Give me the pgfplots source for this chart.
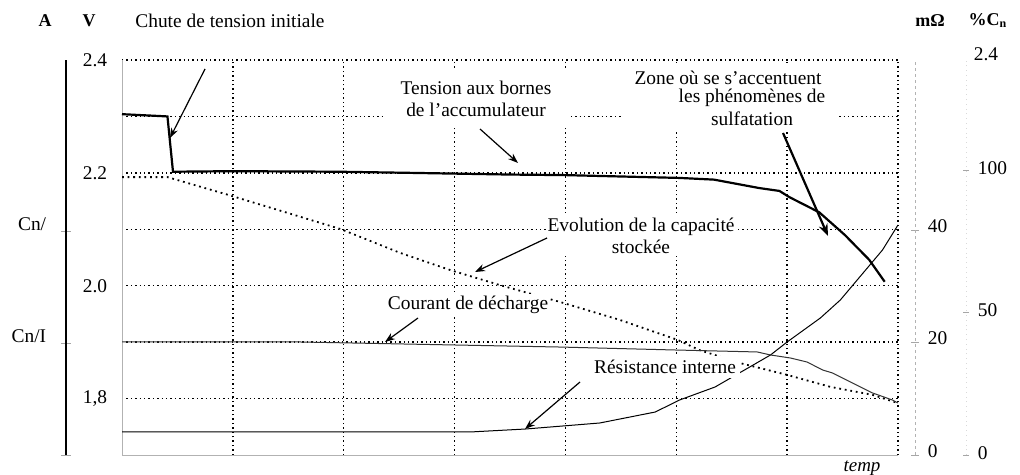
\documentclass[border=0pt]{standalone}
\usepackage{fontspec}
\setmainfont{Liberation Serif}
\usepackage{pgfplots}
\pgfplotsset{compat=1.18}
\usepackage{pgfplotstable}
\usetikzlibrary{arrows.meta}

% tension aux bornes (V)
\pgfplotstableread{
t V
0    2.304
0.41 2.300
0.46 2.202
1.00 2.203
1.96 2.202
2.60 2.200
3.50 2.197
4.00 2.196
5.03 2.191
5.34 2.188
5.75 2.173
5.93 2.168
6.02 2.157
6.29 2.130
6.52 2.090
6.74 2.046
6.88 2.007
}\tension

% capacite stockee (% Cn)
\pgfplotstableread{
t C
0    97.5
0.41 97.5
0.965 91.2
1.97 79.3
2.51 70.9
2.96 64.9
3.41 59.6
3.95 53.7
4.49 47.4
5.01 40.4
5.21 36.8
5.57 32.3
6.00 28.1
6.39 23.9
6.77 21.1
7.00 18.2
}\capacite

% courant de decharge (Cn/I = 1)
\pgfplotstableread{
t I
0    1.009
1.61 1.009
3.95 0.964
4.97 0.938
5.73 0.920
5.85 0.893
6.03 0.866
6.18 0.830
6.32 0.759
6.41 0.732
6.77 0.554
6.95 0.491
7.00 0.464
}\courant

% resistance interne (mOhm)
\pgfplotstableread{
t R
0    4.09
3.14 4.09
3.64 4.62
4.31 5.69
4.81 7.64
5.03 9.78
5.35 12.09
5.85 17.78
6.00 20.09
6.30 24.36
6.48 27.56
6.86 36.44
7.00 40.89
}\resistance

\begin{document}
\fontsize{9.7}{11}\selectfont
\begin{tikzpicture}
\useasboundingbox (0,0) rectangle (510pt,237.5pt);
\pgfplotsset{every axis/.append style={scale only axis, height=197.5pt,
  anchor=south west, clip=false,
  every tick label/.append style={font=\fontsize{9.7}{11}\selectfont}}}

% axe principal : tension
\begin{axis}[at={(61pt,10pt)}, width=388pt,
  xmin=0, xmax=7, ymin=1.7, ymax=2.4,
  axis x line*=bottom, axis y line*=left,
  axis line style={gray!60, line width=0.45pt},
  xtick={1,...,7}, xticklabels={},
  ytick={1.8,1.9,2.0,2.1,2.2,2.3,2.4},
  yticklabels={{1,8},{},2.0,{},2.2,{},2.4},
  yticklabel style={xshift=-4pt},
  major tick length=0pt,
  grid=major,
  grid style={black, line width=0.7pt, dash pattern=on 0.7pt off 1.5pt}]
\addplot[black, line width=1.1pt, mark=none] table[x=t,y=V] {\tension};
\end{axis}

% axe mOhm : resistance interne
\begin{axis}[at={(61pt,10pt)}, width=396.5pt,
  xmin=0, xmax=7.1534, ymin=0, ymax=70.22,
  axis x line=none, axis y line*=right,
  axis line style={gray!60, dash pattern=on 1.5pt off 1.5pt, line width=0.45pt},
  ytick={0,20,40}, yticklabels={0,20,40},
  tick align=center, major tick length=4pt, tick style={gray!70},
  yticklabel style={xshift=1pt, yshift=2pt}]
\addplot[black, line width=0.5pt, mark=none] table[x=t,y=R] {\resistance};
\end{axis}

% axe % Cn : capacite stockee
\begin{axis}[at={(61pt,10pt)}, width=422pt,
  xmin=0, xmax=7.613, ymin=0, ymax=138.6,
  axis x line=none, axis y line*=right,
  axis line style={gray!30, dotted, line width=0.4pt},
  ytick={0,50,100}, yticklabels={0,50,100},
  tick align=center, major tick length=3pt, tick style={gray!70},
  yticklabel style={xshift=1pt, yshift=1pt}]
\addplot[black, line width=0.9pt, dash pattern=on 0.9pt off 1.9pt, mark=none]
  table[x=t,y=C] {\capacite};
\end{axis}

% axe A : courant de decharge
\begin{axis}[at={(33pt,10pt)}, width=416pt,
  xmin=-0.5052, xmax=7, ymin=0, ymax=3.527,
  axis x line=none, axis y line*=left,
  axis line style={black, line width=0.55pt},
  ytick={0,1,2}, yticklabels={{},Cn/I,Cn/},
  tick align=center, major tick length=5pt, tick style={gray!70},
  yticklabel style={xshift=-4pt, yshift=3.5pt}]
\addplot[black!80, line width=0.5pt, mark=none] table[x=t,y=I] {\courant};
\end{axis}

% annotations (coordonnees en pixels)
\begin{scope}[x=0.5pt, y=-0.5pt, yshift=237.5pt,
  lab/.style={fill=white, inner sep=1pt},
  arr/.style={line width=0.6pt, -{Stealth[length=5pt,width=3.6pt]}}]
\node[font=\fontsize{9}{10}\selectfont\bfseries] at (45,21) {A};
\node[font=\fontsize{9}{10}\selectfont\bfseries] at (89,21) {V};
\node[anchor=west, inner sep=0pt] at (135,21) {Chute de tension initiale};
\node[font=\fontsize{9}{10}\selectfont\bfseries] at (930,21) {mΩ};
\node[font=\fontsize{9}{10}\selectfont\bfseries] at (988,21) {\%C\textsubscript{n}};
\node at (986,54) {2.4};
\node[font=\fontsize{9.5}{10}\selectfont\itshape] at (862,468) {temp};

\draw[arr] (205,69) -- (170,138);

\fill[white] (386,71) rectangle (571,128);
\node at (476,88) {Tension aux bornes};
\node at (476,110) {de l’accumulateur};
\draw[arr] (480,129) -- (518,163);

\fill[white] (623,63) rectangle (836,130);
\node at (728,78) {Zone où se s’accentuent};
\node at (752,98) {les phénomènes de};
\node at (752,119) {sulfatation};
\draw[line width=1.1pt, -{Stealth[length=6pt,width=4.5pt]}] (783,133) -- (828,236);

\node[lab, align=center] at (641,236) {Evolution de la capacité\\stockée};
\draw[arr] (547,238) -- (475,272);

\node[lab] at (468,305) {Courant de décharge};
\draw[arr] (418,318) -- (385,342);

\node[lab, inner xsep=2pt, inner ysep=2pt] at (665,367) {Résistance interne};
\draw[arr] (580,382) -- (525,429);
\end{scope}
\end{tikzpicture}
\end{document}
